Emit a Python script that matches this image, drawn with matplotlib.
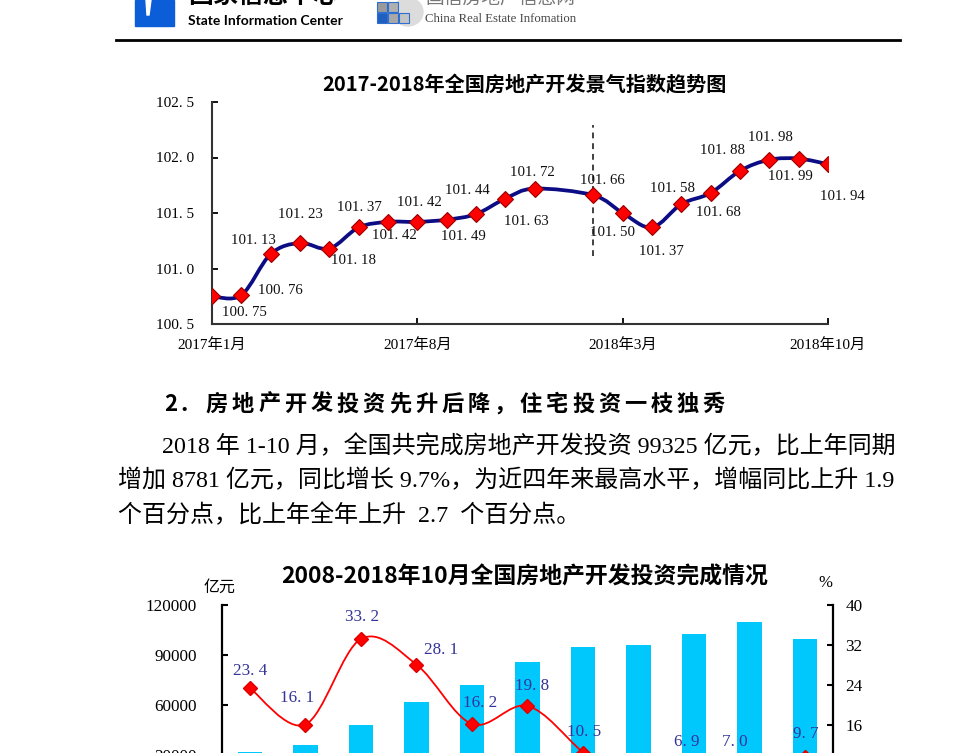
import matplotlib
matplotlib.use('Agg')
import matplotlib.pyplot as plt
import numpy as np
from matplotlib.path import Path
from matplotlib.patches import PathPatch, Rectangle, Polygon, Ellipse

SERIF = ['Liberation Serif', 'Noto Sans CJK SC']
SANS = ['Noto Sans CJK SC', 'DejaVu Sans']
plt.rcParams['font.family'] = SERIF

# chart 1: 景气指数
months = ['2017年%d月' % m for m in range(1, 13)] + ['2018年%d月' % m for m in range(1, 11)]
index_vals = [100.75, 100.76, 101.13, 101.23, 101.18, 101.37, 101.42, 101.42, 101.44, 101.49,
              101.63, 101.72, None, 101.66, 101.50, 101.37, 101.58, 101.68, 101.88, 101.98,
              101.99, 101.94]
month_ticks = ['2017年1月', '2017年8月', '2018年3月', '2018年10月']
index_yticks = [100.5, 101.0, 101.5, 102.0, 102.5]

# chart 2: 投资完成情况
years = ['2008', '2009', '2010', '2011', '2012', '2013', '2014', '2015', '2016', '2017', '2018']
invest = [31800, 36232, 48259, 61740, 71804, 86013, 95036, 95979, 102581, 109799, 99325]
growth = [23.4, 16.1, 33.2, 28.1, 16.2, 19.8, 10.5, 1.0, 6.9, 7.0, 9.7]
invest_ticks = [0, 30000, 60000, 90000, 120000]
growth_ticks = [0, 8, 16, 24, 32, 40]

# label offsets in pixels (x, y up)
off1 = [(32, -16), (39, 5), (-17, 14), (0, 28), (24, -12), (1, 20), (6, -14), (2, 19), (21, 29),
        (-13, -22), (21, -23), (-2, 16), None, (9, 15), (-10, -19), (9, -24), (-9, 16), (8, -19),
        (-17, 20), (1, 22), (-8, -18), (14, -32)]
off2 = [(0, 17), (-8, 26), (1, 22), (25, 15), (8, 21), (5, 20), (1, 20), (0, 20), (-7, 28),
        (-15, 28), (1, 23)]


def smooth(x, y):
    p = np.column_stack([x, y]).astype(float)
    verts, codes = [p[0]], [Path.MOVETO]
    for i in range(len(p) - 1):
        p0 = p[i - 1] if i > 0 else p[i]
        p3 = p[i + 2] if i + 2 < len(p) else p[i + 1]
        verts += [p[i] + (p[i + 1] - p0) / 6, p[i + 1] - (p3 - p[i]) / 6, p[i + 1]]
        codes += [Path.CURVE4] * 3
    return Path(verts, codes)


def dotted(v, nd):
    return ('%.*f' % (nd, v)).replace('.', '. ')


W, H = 964, 753
fig = plt.figure(figsize=(W / 100, H / 100), dpi=100)
bg = fig.add_axes([0, 0, 1, 1])
bg.set_xlim(0, W)
bg.set_ylim(H, 0)
bg.axis('off')

# header
bg.add_patch(Rectangle((135, 0), 39, 26, color='#0b5ed7'))
bg.add_patch(Polygon([(146, 0), (151, 0), (149, 15), (147, 15)], color='white'))
bg.text(188, -3, '国家信息中心', fontsize=18, weight='bold', family=SANS, va='center')
bg.text(188, 21, 'State Information Center', fontsize=10, weight='bold',
        family=['Lato', 'DejaVu Sans'], va='center')
bg.add_patch(Ellipse((408, 12), 30, 28, color='#dcdcdc'))
for gx, gy, c in [(377, 2, '#9a9a9a'), (388, 2, '#b0b0b0'), (377, 13, '#1f5fbf'),
                  (388, 13, '#a8a8a8'), (399, 13, '#c4c4c4')]:
    bg.add_patch(Rectangle((gx, gy), 10, 10, fc=c, ec='#2d6fd0', lw=0.8))
bg.text(425, -2, '国信房地产信息网', fontsize=13.5, color='#777777', family=SANS, va='center')
bg.text(425, 19, 'China Real Estate Infomation', fontsize=9.2, color='#444444',
        family=['Liberation Serif'], va='center')
bg.plot([116, 900], [40, 40], color='black', lw=2)

# titles and body text
bg.text(524, 85, '2017-2018年全国房地产开发景气指数趋势图', fontsize=14.5, weight='bold',
        family=SANS, ha='center', va='center')
bg.text(164, 404, '2', fontsize=16, weight='bold', family=SANS, va='center')
bg.text(180, 404, '.', fontsize=16, weight='bold', family=SANS, va='center')
for i, ch in enumerate('房地产开发投资先升后降，住宅投资一枝独秀'):
    bg.text(217 + i * 26.15, 404, ch, fontsize=16, weight='bold', family=SANS,
            ha='center', va='center')
bg.text(162, 446, '2018 年 1-10 月，全国共完成房地产开发投资 99325 亿元，比上年同期',
        fontsize=17.3, va='center')
bg.text(118, 481, '增加 8781 亿元，同比增长 9.7%，为近四年来最高水平，增幅同比上升 1.9',
        fontsize=17.3, va='center')
bg.text(118, 515, '个百分点，比上年全年上升  2.7  个百分点。', fontsize=17.3, va='center')
bg.text(525, 577, '2008-2018年10月全国房地产开发投资完成情况', fontsize=16.5, weight='bold',
        family=SANS, ha='center', va='center')
bg.text(220, 587, '亿元', fontsize=11.5, family=SANS, ha='center', va='center')
bg.text(825, 583, '%', fontsize=12, ha='center', va='center')

# chart 1
ax = fig.add_axes([212 / W, 1 - 324 / H, 616 / W, 222 / H])
x1 = [i for i, v in enumerate(index_vals) if v is not None]
y1 = [v for v in index_vals if v is not None]
ax.add_patch(PathPatch(smooth(x1, y1), fill=False, ec='#0c0c85', lw=2.7, zorder=3))
ax.plot(x1, y1, 'D', ms=8, mfc='#ff0000', mec='#990000', mew=0.8, zorder=4)
for i, v in enumerate(index_vals):
    if v is not None:
        ax.annotate(dotted(v, 2), (i, v), xytext=off1[i], textcoords='offset pixels',
                    ha='center', va='center', fontsize=10.7, color='#111111')
ax.axvline(months.index('2018年2月'), ymin=0.306, ymax=0.896, ls=(0, (3, 2.5)),
           color='#404040', lw=1.4, zorder=2)
ax.set_xlim(0, len(months) - 1)
ax.set_ylim(100.5, 102.5)
ax.set_xticks([months.index(m) for m in month_ticks])
ax.set_xticklabels(month_ticks, fontsize=11)
ax.set_yticks(index_yticks)
ax.set_yticklabels([dotted(v, 1) for v in index_yticks], fontsize=11)
ax.tick_params(axis='y', direction='in', length=4, width=1.3, pad=13)
ax.tick_params(axis='x', direction='in', length=4, width=1.3, pad=10)
for s in ['top', 'right']:
    ax.spines[s].set_visible(False)
for s in ['left', 'bottom']:
    ax.spines[s].set_linewidth(1.5)
    ax.spines[s].set_color('#333333')
ax.patch.set_alpha(0)

# chart 2
ax2 = fig.add_axes([222 / W, 1 - 805 / H, 611 / W, 200 / H])
xs = np.arange(len(years))
ax2.bar(xs, invest, width=0.44, color='#00c8fd', zorder=1)
ax2.set_xlim(-0.5, len(years) - 0.5)
ax2.set_ylim(0, 120000)
ax2.set_xticks(xs)
ax2.set_xticklabels(years)
ax2.set_yticks(invest_ticks)
ax2.set_yticklabels([str(v) for v in invest_ticks], fontsize=12.3)
ax2.tick_params(axis='y', direction='in', length=4, width=1.5, pad=18)
for s in ['top', 'right', 'bottom']:
    ax2.spines[s].set_visible(False)
ax2.spines['left'].set_linewidth(1.6)
ax2.patch.set_alpha(0)

ax3 = ax2.twinx()
ax3.set_ylim(0, 40)
ax3.add_patch(PathPatch(smooth(xs, growth), fill=False, ec='#ff0000', lw=1.3, zorder=3))
ax3.plot(xs, growth, 'D', ms=7, mfc='#ff0000', mec='#dd0000', zorder=4)
for i, v in enumerate(growth):
    ax3.annotate(dotted(v, 1), (i, v), xytext=off2[i], textcoords='offset pixels',
                 ha='center', va='center', fontsize=12.3, color='#33339a')
ax3.set_yticks(growth_ticks)
ax3.set_yticklabels([str(v) for v in growth_ticks], fontsize=12.3)
ax3.tick_params(axis='y', direction='in', length=4, width=1.5, pad=9)
for s in ['top', 'left', 'bottom']:
    ax3.spines[s].set_visible(False)
ax3.spines['right'].set_linewidth(1.6)

fig.savefig('out.png', dpi=100)
